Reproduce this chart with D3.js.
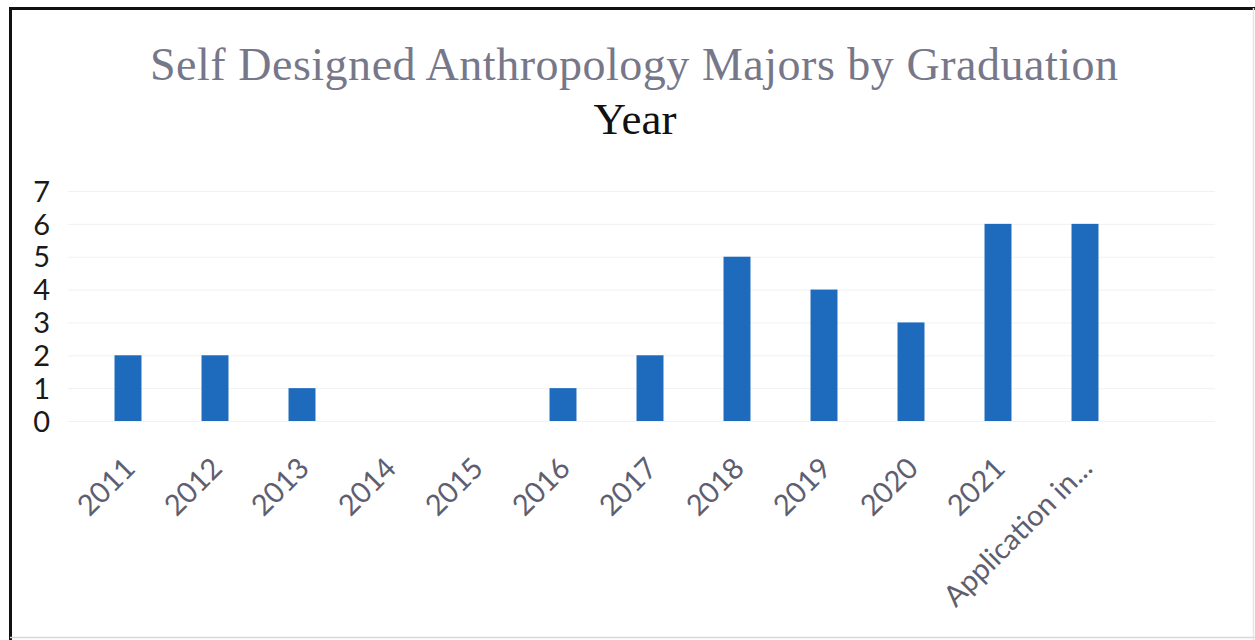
<!DOCTYPE html>
<html>
<head>
<meta charset="utf-8">
<script src="https://cdn.jsdelivr.net/npm/d3@7"></script>
<style>
  html, body { margin: 0; padding: 0; background: #ffffff; }
  svg { display: block; }
</style>
</head>
<body>
<svg id="chart" width="1255" height="640"></svg>
<script>
// ---- data ----
const categories = ["2011", "2012", "2013", "2014", "2015", "2016", "2017", "2018", "2019", "2020", "2021", "Application in..."];
const majors = [2, 2, 1, 0, 0, 1, 2, 5, 4, 3, 6, 6];
const yTicks = [0, 1, 2, 3, 4, 5, 6, 7];
const titleLine1 = "Self Designed Anthropology Majors by Graduation";
const titleLine2 = "Year";

const svg = d3.select("#chart");
const W = 1255, H = 640;

svg.append("rect").attr("width", W).attr("height", H).attr("fill", "#ffffff");

// frame (scanned: dark top/left, faint bottom/right)
svg.append("line").attr("x1", 10).attr("x2", 1255).attr("y1", 8.5).attr("y2", 8.5)
  .attr("stroke", "#111").attr("stroke-width", 3);
svg.append("line").attr("x1", 10.5).attr("x2", 10.5).attr("y1", 7).attr("y2", 640)
  .attr("stroke", "#111").attr("stroke-width", 3);
svg.append("line").attr("x1", 10).attr("x2", 1255).attr("y1", 637.5).attr("y2", 637.5)
  .attr("stroke", "#d8d8d8").attr("stroke-width", 1.5);
svg.append("line").attr("x1", 1253.5).attr("x2", 1253.5).attr("y1", 8).attr("y2", 640)
  .attr("stroke", "#e4e4e4").attr("stroke-width", 1.5);

// scales
const x = d3.scaleBand().domain(categories).range([84.5, 1128.5])
  .paddingInner(0.69).paddingOuter(0.345);
const y = d3.scaleLinear().domain([0, 7]).range([421, 191]);

// gridlines (very faint)
svg.append("g").selectAll("line").data(yTicks).join("line")
  .attr("x1", 68).attr("x2", 1215)
  .attr("y1", d => y(d) + 0.5).attr("y2", d => y(d) + 0.5)
  .attr("stroke", "#f1f1f1").attr("stroke-width", 1);

// y axis labels
const yAxis = d3.axisLeft(y).tickValues(yTicks).tickFormat(d3.format("d")).tickSize(0).tickPadding(0);
const gy = svg.append("g").attr("transform", "translate(50,1)").call(yAxis);
gy.select(".domain").remove();
gy.selectAll("text")
  .attr("font-family", "Lato, 'Open Sans', sans-serif")
  .attr("font-size", 29)
  .attr("fill", "#1a1a1a");

// bars
svg.append("g").selectAll("rect").data(categories).join("rect")
  .attr("x", d => x(d))
  .attr("width", x.bandwidth())
  .attr("y", (d, i) => y(majors[i]))
  .attr("height", (d, i) => y(0) - y(majors[i]))
  .attr("fill", "#1e6bbd");

// x axis labels (rotated -45)
const xAxis = d3.axisBottom(x).tickSize(0).tickPadding(0);
const gx = svg.append("g").call(xAxis);
gx.select(".domain").remove();
gx.selectAll(".tick").attr("transform", d => `translate(${x(d) + x.bandwidth() / 2 + 9},470)`);
gx.selectAll("text")
  .attr("y", 0).attr("dy", 0)
  .attr("transform", "rotate(-45)")
  .attr("text-anchor", "end")
  .attr("font-family", "Lato, 'Open Sans', sans-serif")
  .attr("font-size", 29)
  .attr("fill", "#5e5e70");

// title
svg.append("text")
  .attr("x", 634).attr("y", 80)
  .attr("text-anchor", "middle")
  .attr("font-family", "'Liberation Serif', 'Times New Roman', serif")
  .attr("font-size", 46)
  .attr("fill", "#77778a")
  .attr("textLength", 968)
  .attr("lengthAdjust", "spacing")
  .text(titleLine1);
svg.append("text")
  .attr("x", 635).attr("y", 134)
  .attr("text-anchor", "middle")
  .attr("font-family", "'Liberation Serif', 'Times New Roman', serif")
  .attr("font-size", 45)
  .attr("fill", "#111111")
  .text(titleLine2);
</script>
</body>
</html>
